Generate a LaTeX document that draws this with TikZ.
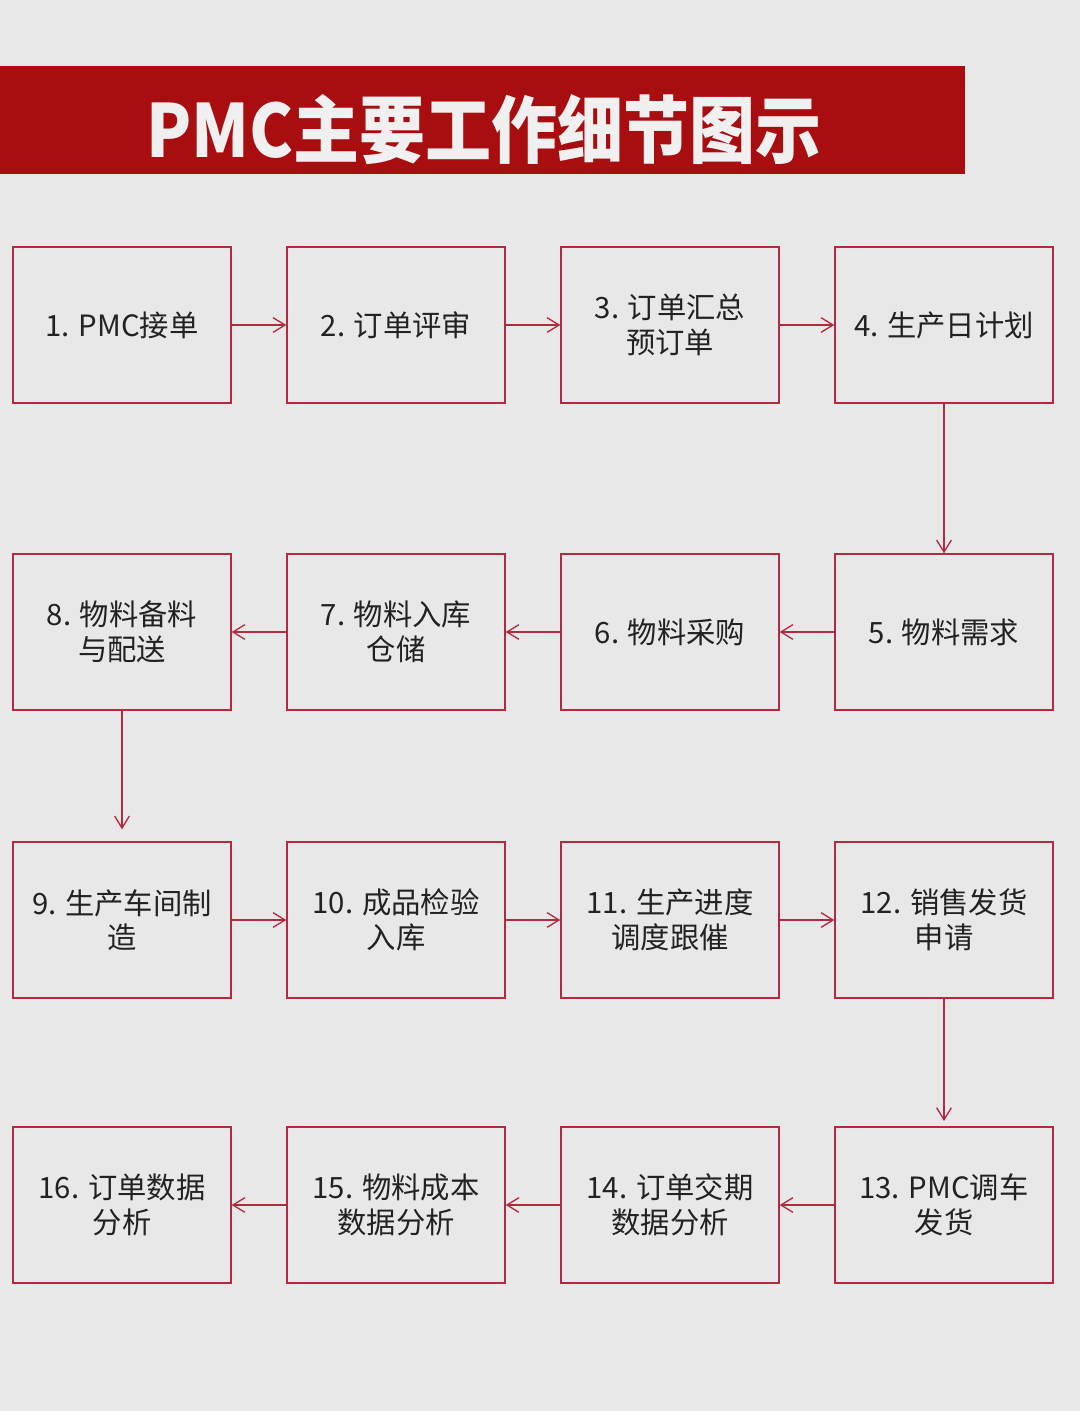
\documentclass[tikz,border=0pt]{standalone}
\usepackage{fontspec}
\setmainfont{Noto Sans CJK SC}
\usetikzlibrary{arrows.meta}
\definecolor{bgray}{HTML}{E8E8E8}
\definecolor{banner}{HTML}{A80D10}
\definecolor{edge}{HTML}{B02A40}
\definecolor{ink}{HTML}{222222}
\tikzset{
  box/.style={draw=edge,line width=1pt,minimum width=163.5pt,minimum height=117pt,inner sep=0pt,align=center,text=ink,font=\fontsize{22}{26}\selectfont},
  flow/.style={edge,line width=1pt,-{Straight Barb[length=9pt,width=11pt]}}
}
\begin{document}
\begin{tikzpicture}[x=0.75pt,y=-0.75pt]
	\fill [bgray] (0,0) rectangle (1080,1411);
	\fill [banner] (0,66) rectangle (965,174);
	\node (title) at (484,130) [text=white!94!black,font=\bfseries\fontsize{55}{60}\selectfont] {\scalebox{0.9}[1]{PMC主要工作细节图示}};
	% row 1
	\node [box] (b1) at (122,325) {1. PMC接单};
	\node [box] (b2) at (396,325) {2. 订单评审};
	\node [box] (b3) at (670,325) {3. 订单汇总\\预订单};
	\node [box] (b4) at (944,325) {4. 生产日计划};
	% row 2
	\node [box] (b5) at (944,632) {5. 物料需求};
	\node [box] (b6) at (670,632) {6. 物料采购};
	\node [box] (b7) at (396,632) {7. 物料入库\\仓储};
	\node [box] (b8) at (122,632) {8. 物料备料\\与配送};
	% row 3
	\node [box] (b9) at (122,920) {9. 生产车间制\\造};
	\node [box] (b10) at (396,920) {10. 成品检验\\入库};
	\node [box] (b11) at (670,920) {11. 生产进度\\调度跟催};
	\node [box] (b12) at (944,920) {12. 销售发货\\申请};
	% row 4
	\node [box] (b13) at (944,1205) {13. PMC调车\\发货};
	\node [box] (b14) at (670,1205) {14. 订单交期\\数据分析};
	\node [box] (b15) at (396,1205) {15. 物料成本\\数据分析};
	\node [box] (b16) at (122,1205) {16. 订单数据\\分析};
	\draw [flow] (b1) -- (b2);
	\draw [flow] (b2) -- (b3);
	\draw [flow] (b3) -- (b4);
	\draw [flow] (b4) -- (b5);
	\draw [flow] (b5) -- (b6);
	\draw [flow] (b6) -- (b7);
	\draw [flow] (b7) -- (b8);
	\draw [flow,shorten >=9pt] (b8) -- (b9);
	\draw [flow] (b9) -- (b10);
	\draw [flow] (b10) -- (b11);
	\draw [flow] (b11) -- (b12);
	\draw [flow,shorten >=4pt] (b12) -- (b13);
	\draw [flow] (b13) -- (b14);
	\draw [flow] (b14) -- (b15);
	\draw [flow] (b15) -- (b16);
\end{tikzpicture}
\end{document}
